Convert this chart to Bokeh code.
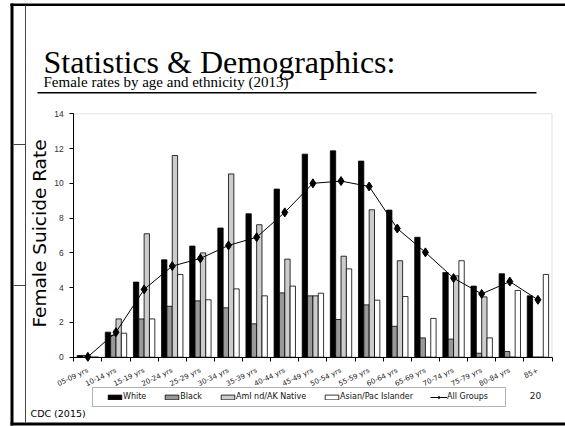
import math
from bokeh.plotting import figure
from bokeh.models import (ColumnDataSource, Range1d, FixedTicker, Label,
                          BoxAnnotation, Legend, LegendItem)
from bokeh.transform import dodge
from bokeh.embed import file_html
from bokeh.resources import INLINE

# ---------------- data ----------------
categories = ["05-09 yrs", "10-14 yrs", "15-19 yrs", "20-24 yrs", "25-29 yrs",
              "30-34 yrs", "35-39 yrs", "40-44 yrs", "45-49 yrs", "50-54 yrs",
              "55-59 yrs", "60-64 yrs", "65-69 yrs", "70-74 yrs", "75-79 yrs",
              "80-84 yrs", "85+"]
white = [0.1, 1.44, 4.32, 5.6, 6.39, 7.43, 8.25, 9.67, 11.68, 11.87, 11.28,
         8.46, 6.9, 4.87, 4.09, 4.8, 3.53]
black = [0.1, 1.25, 2.2, 2.93, 3.24, 2.84, 1.92, 3.7, 3.53, 2.17, 3.01,
         1.78, 1.11, 1.04, 0.23, 0.33, 0.0]
amind = [0.0, 2.2, 7.1, 11.6, 6.0, 10.54, 7.62, 5.64, 3.53, 5.81, 8.48,
         5.55, 0.0, 4.68, 3.47, 0.0, 0.0]
asian = [0.0, 1.38, 2.2, 4.76, 3.3, 3.93, 3.53, 4.09, 3.68, 5.08, 3.28,
         3.49, 2.23, 5.55, 1.11, 3.84, 4.76]
all_groups = [0.02, 1.44, 3.9, 5.24, 5.68, 6.43, 6.9, 8.33, 10.0, 10.13, 9.82,
              7.4, 6.03, 4.55, 3.64, 4.35, 3.3]
series_names = ["White", "Black", "AmI nd/AK Native", "Asian/Pac Islander", "All Groups"]
y_ticks = [0, 2, 4, 6, 8, 10, 12, 14]
y_max = 14

title_text = "Statistics & Demographics:"
subtitle_text = "Female rates by age and ethnicity (2013)"
y_label = "Female Suicide Rate"
source_text = "CDC (2015)"
page_number = "20"

# ---------------- layout ----------------
W, H = 565, 426
PAGE = 0                      # Bokeh's page template has no body margin
PX0, PX1 = 73.3, 551.5        # plot area left/right (page px)
PY0, PY1 = 113.3, 356.7       # plot area top/bottom (page px)
n = len(categories)

kx = (PX1 - PX0) / n
ky = (PY1 - PY0) / y_max
x_start = -(PX0 - PAGE) / kx
x_end = n + (PAGE + W - PX1) / kx
y_start = -(PAGE + H - PY1) / ky
y_end = y_max + (PY0 - PAGE) / ky


def fx(px):
    """page x -> screen x (frame fills the canvas)"""
    return px - PAGE


def fy(py):
    """page y -> screen y measured upwards"""
    return H - (py - PAGE)


pos = [i + 0.5 for i in range(n)]
src = ColumnDataSource(dict(pos=pos, white=white, black=black, amind=amind,
                            asian=asian, allg=all_groups))

p = figure(width=W, height=H, output_backend="svg", toolbar_location=None,
           x_range=Range1d(x_start, x_end), y_range=Range1d(y_start, y_end),
           min_border_left=0, min_border_right=0,
           min_border_top=0, min_border_bottom=0)
p.xgrid.visible = False
p.ygrid.visible = False
p.outline_line_color = None
p.background_fill_color = "white"
p.border_fill_color = "white"

# plot-area border (grey, like the source chart)
p.add_layout(BoxAnnotation(left=0, right=n, bottom=0, top=y_max,
                           fill_alpha=0, line_color="#9a9a9a", line_width=1,
                           level="underlay"))

bw = 0.19
offs = [-0.285, -0.095, 0.095, 0.285]
fills = ["black", "#999999", "#cccccc", "white"]
fields = ["white", "black", "amind", "asian"]
bar_renderers = []
for f, o, c in zip(fields, offs, fills):
    r = p.vbar(x=dodge("pos", o), top=f, width=bw, bottom=0, source=src,
               fill_color=c, line_color="black", line_width=0.8)
    bar_renderers.append(r)

ln = p.line("pos", "allg", source=src, line_color="black", line_width=1)
sc = p.scatter("pos", "allg", source=src, marker="diamond", size=9,
               fill_color="black", line_color="black")

# axes (drawn inside the canvas at the plot-area edges)
xa = p.xaxis[0]
xa.fixed_location = 0
xa.bounds = (0, n)
xa.ticker = FixedTicker(ticks=pos, minor_ticks=list(range(n + 1)))
xa.major_label_overrides = {pv: c for pv, c in zip(pos, categories)}
xa.major_label_orientation = 0.44
xa.major_tick_line_color = None
xa.major_tick_out = 0
xa.major_tick_in = 0
xa.minor_tick_out = 4
xa.minor_tick_in = 0
xa.minor_tick_line_color = "black"
xa.axis_line_color = "black"
xa.major_label_standoff = 9
xa.major_label_text_font = "DejaVu Sans"
xa.major_label_text_font_size = "7px"
xa.major_label_text_color = "#222222"

ya = p.yaxis[0]
ya.fixed_location = 0
ya.bounds = (0, y_max)
ya.ticker = FixedTicker(ticks=y_ticks)
ya.minor_tick_line_color = None
ya.major_tick_out = 4
ya.major_tick_in = 0
ya.major_tick_line_color = "black"
ya.axis_line_color = "black"
ya.major_label_standoff = 6
ya.major_label_text_font = "Liberation Sans"
ya.major_label_text_font_size = "8.5px"
ya.major_label_text_color = "#333333"

# legend
legend = Legend(items=[
    LegendItem(label=series_names[0], renderers=[bar_renderers[0]]),
    LegendItem(label=series_names[1], renderers=[bar_renderers[1]]),
    LegendItem(label=series_names[2], renderers=[bar_renderers[2]]),
    LegendItem(label=series_names[3], renderers=[bar_renderers[3]]),
    LegendItem(label=series_names[4], renderers=[ln, sc]),
], orientation="horizontal", location=(fx(106), fy(402)),
    glyph_width=17, glyph_height=6, label_standoff=0, spacing=17,
    padding=0, margin=0, label_height=11, label_width=10,
    label_text_font="DejaVu Sans", label_text_font_size="8px",
    label_text_color="#111111",
    border_line_color=None, background_fill_alpha=0)
p.add_layout(legend, "center")


def box(x0, x1, y0, y1, color="black", fill=True, lw=1):
    p.add_layout(BoxAnnotation(left=fx(x0), right=fx(x1), top=fy(y0), bottom=fy(y1),
                               left_units="screen", right_units="screen",
                               top_units="screen", bottom_units="screen",
                               fill_color=color if fill else None,
                               fill_alpha=1 if fill else 0,
                               line_color=None if fill else color, line_width=lw))


# legend frame
box(92, 505, 387, 406, "black", fill=False)

# slide frame decorations
box(10, 565, 3, 5.5)           # top border
box(10, 565, 422, 425)         # bottom border
box(10, 13, 3, 425)            # left border
box(24.5, 25.5, 5, 422, "#444444")   # thin vertical
box(13, 25, 143.5, 144.5, "#444444")
box(13, 25, 284.5, 285.5, "#444444")
box(37, 536, 91.5, 93)         # title rule


# texts
def label(px, py, text, font, size, color="black", align="left",
          baseline="middle", angle=0.0):
    p.add_layout(Label(x=fx(px), y=fy(py), x_units="screen", y_units="screen",
                       text=text, text_font=font, text_font_size=size,
                       text_color=color, text_align=align,
                       text_baseline=baseline, angle=angle))


label(43, 61.5, title_text, "Liberation Serif", "32px")
label(43, 81, subtitle_text, "Liberation Serif", "15px")
label(39, 233, y_label, "DejaVu Sans", "18.5px", align="center",
      angle=math.pi / 2)
label(30, 413, source_text, "DejaVu Sans", "9.5px")
label(535, 395, page_number, "DejaVu Sans", "9px", color="#222222",
      align="center")

open("out.html", "w").write(file_html(p, INLINE))
